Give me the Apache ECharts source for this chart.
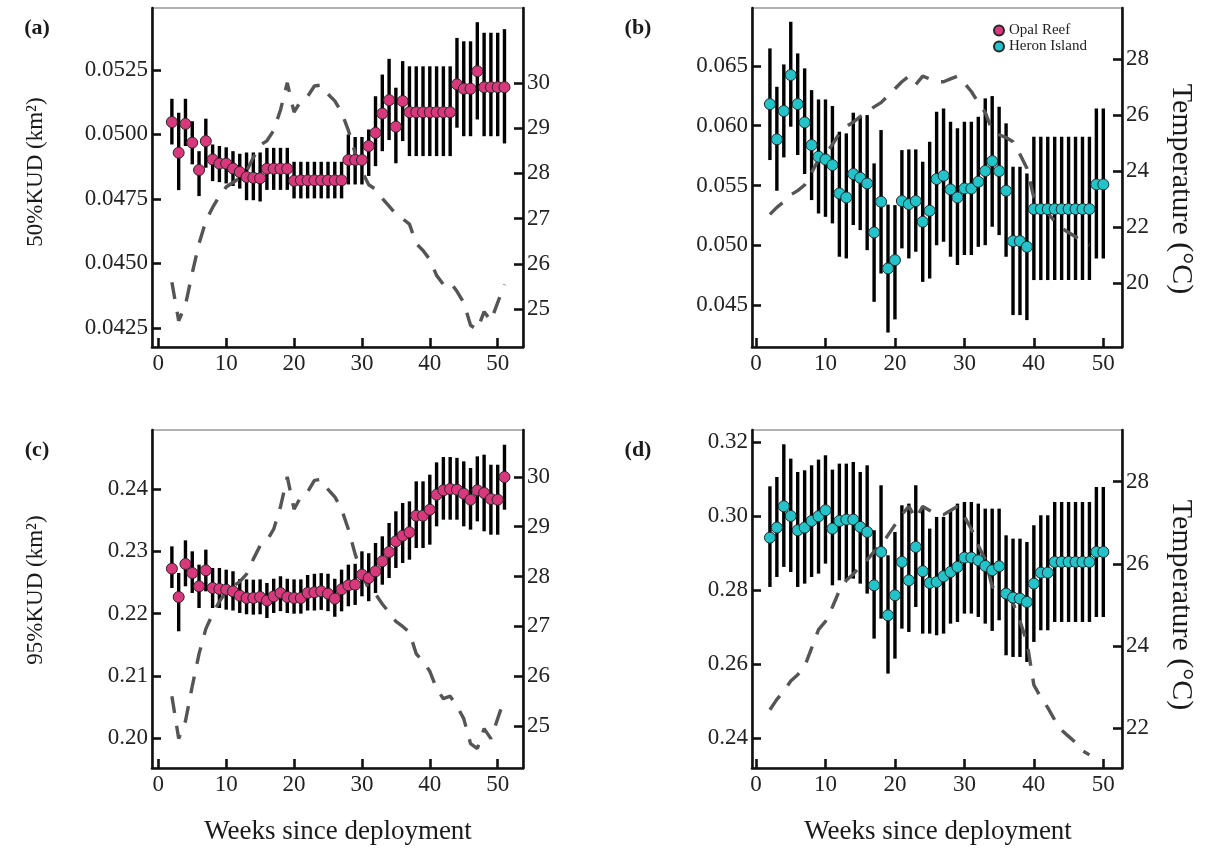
<!DOCTYPE html>
<html>
<head>
<meta charset="utf-8">
<title>KUD and temperature by week</title>
<script src="https://cdn.jsdelivr.net/npm/echarts@6/dist/echarts.min.js"></script>
<style>
  html, body { margin: 0; padding: 0; background: #fff; }
  #chart { width: 1211px; height: 852px; }
</style>
</head>
<body>
<div id="chart"></div>
<script>
// weeks since deployment
const opalWeeks = [2,3,4,5,6,7,8,9,10,11,12,13,14,15,16,17,18,19,20,21,22,23,24,25,26,
  27,28,29,30,31,32,33,34,35,36,37,38,39,40,41,42,43,44,45,46,47,48,49,50,51];
const heronWeeks = [2,3,4,5,6,7,8,9,10,11,12,13,14,15,16,17,18,19,20,21,22,23,24,25,26,
  27,28,29,30,31,32,33,34,35,36,37,38,39,40,41,42,43,44,45,46,47,48,49,50];
const heronTempWeeks = [2,3,4,5,6,7,8,9,10,11,12,13,14,15,16,17,18,19,20,21,22,23,24,25,26,
  27,28,29,30,31,32,33,34,35,36,37,38,39,40,41,42,43,44,45,46,47,48];

// Opal Reef 50% KUD (km2)
const opal50 = [0.05048,0.04929,0.05041,0.04968,0.04862,0.04974,0.04903,0.04887,0.04887,0.04868,
  0.04854,0.04835,0.04832,0.04830,0.04867,0.04867,0.04867,0.04867,0.04820,0.04822,
  0.04822,0.04822,0.04822,0.04822,0.04822,0.04822,0.04901,0.04901,0.04901,0.04955,
  0.05006,0.05081,0.05133,0.05030,0.05129,0.05086,0.05086,0.05086,0.05086,0.05086,
  0.05086,0.05086,0.05194,0.05177,0.05177,0.05245,0.05183,0.05183,0.05183,0.05183];
const opal50Lo = [0.04961,0.04784,0.04955,0.04884,0.04761,0.04871,0.04819,0.04815,0.04810,0.04800,
  0.04790,0.04745,0.04745,0.04740,0.04785,0.04785,0.04785,0.04785,0.04752,0.04752,
  0.04752,0.04752,0.04752,0.04752,0.04752,0.04752,0.04806,0.04806,0.04806,0.04839,
  0.04877,0.04935,0.04978,0.04888,0.04974,0.04916,0.04916,0.04916,0.04916,0.04916,
  0.04916,0.04916,0.05026,0.04993,0.04993,0.05058,0.04993,0.04993,0.04993,0.04965];
const opal50Hi = [0.05138,0.05084,0.05138,0.05051,0.04935,0.05061,0.04961,0.04955,0.04950,0.04935,
  0.04925,0.04930,0.04930,0.04930,0.04948,0.04948,0.04948,0.04948,0.04894,0.04894,
  0.04894,0.04894,0.04894,0.04894,0.04894,0.04894,0.05000,0.04990,0.04990,0.05019,
  0.05148,0.05232,0.05293,0.05181,0.05284,0.05264,0.05264,0.05264,0.05264,0.05264,
  0.05264,0.05264,0.05374,0.05361,0.05361,0.05435,0.05394,0.05394,0.05394,0.05408];

// Opal Reef 95% KUD (km2)
const opal95 = [0.22722,0.22267,0.22797,0.22652,0.22439,0.22695,0.22412,0.22396,0.22385,0.22358,
  0.22289,0.22251,0.22251,0.22267,0.22209,0.22278,0.22332,0.22267,0.22251,0.22251,
  0.22332,0.22342,0.22358,0.22321,0.22241,0.22390,0.22455,0.22465,0.22626,0.22572,
  0.22679,0.22840,0.22989,0.23160,0.23251,0.23305,0.23572,0.23572,0.23668,0.23909,
  0.23979,0.24000,0.23990,0.23925,0.23829,0.23979,0.23936,0.23840,0.23829,0.24193];
const opal95Lo = [0.22412,0.21717,0.22439,0.22332,0.22091,0.22358,0.22091,0.22091,0.22064,0.22050,
  0.22011,0.21990,0.21984,0.21990,0.21930,0.22010,0.22040,0.22010,0.22000,0.22000,
  0.22050,0.22050,0.22060,0.22040,0.21950,0.22037,0.22118,0.22140,0.22278,0.22200,
  0.22332,0.22465,0.22572,0.22733,0.22813,0.22866,0.23053,0.23053,0.23107,0.23401,
  0.23508,0.23508,0.23508,0.23401,0.23348,0.23481,0.23321,0.23267,0.23267,0.23668];
const opal95Hi = [0.23080,0.22652,0.23176,0.23000,0.22786,0.23027,0.22733,0.22733,0.22706,0.22680,
  0.22556,0.22550,0.22545,0.22550,0.22492,0.22560,0.22600,0.22560,0.22550,0.22550,
  0.22620,0.22640,0.22650,0.22640,0.22560,0.22706,0.22786,0.22800,0.23000,0.22970,
  0.23134,0.23241,0.23455,0.23642,0.23775,0.23802,0.24123,0.24123,0.24230,0.24428,
  0.24513,0.24513,0.24500,0.24444,0.24337,0.24524,0.24551,0.24390,0.24390,0.24711];

// Heron Island 50% KUD (km2)
const heron50 = [0.06181,0.05886,0.06123,0.06424,0.06181,0.06028,0.05838,0.05741,0.05718,0.05671,
  0.05434,0.05400,0.05596,0.05565,0.05517,0.05107,0.05364,0.04806,0.04876,0.05370,
  0.05344,0.05370,0.05197,0.05289,0.05554,0.05582,0.05467,0.05400,0.05475,0.05475,
  0.05531,0.05621,0.05704,0.05621,0.05456,0.05035,0.05035,0.04987,0.05303,0.05303,
  0.05303,0.05303,0.05303,0.05303,0.05303,0.05303,0.05303,0.05509,0.05509];
const heron50Lo = [0.05713,0.05456,0.05735,0.05992,0.05755,0.05596,0.05378,0.05266,0.05238,0.05183,
  0.04904,0.04890,0.05169,0.05127,0.04959,0.04527,0.04764,0.04270,0.04380,0.04974,
  0.04890,0.04946,0.04694,0.04722,0.05001,0.05029,0.04904,0.04834,0.04918,0.04918,
  0.04987,0.05001,0.05155,0.05085,0.04904,0.04416,0.04416,0.04374,0.04709,0.04709,
  0.04709,0.04709,0.04709,0.04709,0.04709,0.04709,0.04709,0.04890,0.04890];
const heron50Hi = [0.06647,0.06326,0.06513,0.06870,0.06605,0.06480,0.06298,0.06220,0.06220,0.06165,
  0.05950,0.05936,0.06109,0.06075,0.06089,0.05685,0.05964,0.05340,0.05336,0.05796,
  0.05802,0.05802,0.05699,0.05866,0.06117,0.06145,0.06033,0.05978,0.06033,0.06033,
  0.06075,0.06229,0.06248,0.06159,0.06020,0.05657,0.05657,0.05601,0.05908,0.05908,
  0.05908,0.05908,0.05908,0.05908,0.05908,0.05908,0.05908,0.06145,0.06145];

// Heron Island 95% KUD (km2)
const heron95 = [0.29423,0.29694,0.30270,0.30009,0.29622,0.29694,0.29874,0.30000,0.30162,0.29667,
  0.29874,0.29910,0.29910,0.29712,0.29577,0.28135,0.29036,0.27324,0.27865,0.28766,
  0.28270,0.29171,0.28514,0.28198,0.28225,0.28378,0.28495,0.28631,0.28883,0.28883,
  0.28811,0.28658,0.28541,0.28649,0.27910,0.27802,0.27775,0.27685,0.28180,0.28477,
  0.28477,0.28766,0.28766,0.28766,0.28766,0.28766,0.28766,0.29036,0.29036];
const heron95Lo = [0.28090,0.28360,0.28631,0.28495,0.28090,0.28180,0.28360,0.28450,0.28721,0.28135,
  0.28270,0.28270,0.28315,0.28180,0.27910,0.26694,0.27234,0.25748,0.26153,0.26964,
  0.26874,0.27549,0.26829,0.26829,0.26784,0.26829,0.27099,0.27144,0.27370,0.27370,
  0.27279,0.27099,0.26901,0.27189,0.26243,0.26198,0.26198,0.26063,0.26604,0.26919,
  0.26919,0.27144,0.27144,0.27144,0.27144,0.27144,0.27144,0.27279,0.27279];
const heron95Hi = [0.30811,0.31063,0.31946,0.31559,0.31198,0.31243,0.31378,0.31532,0.31649,0.31261,
  0.31423,0.31423,0.31468,0.31198,0.31378,0.29622,0.30838,0.28946,0.29577,0.30297,
  0.30342,0.30838,0.30234,0.29667,0.29982,0.29982,0.30162,0.30342,0.30387,0.30387,
  0.30342,0.30207,0.30207,0.30207,0.29486,0.29396,0.29396,0.29306,0.29757,0.30027,
  0.30027,0.30387,0.30387,0.30387,0.30387,0.30387,0.30387,0.30793,0.30793];

// water temperature (deg C)
const opalTemp = [25.6,24.75,25.1,25.8,26.45,26.95,27.25,27.5,27.7,27.8,
  27.9,28.05,28.35,28.62,28.72,28.95,29.4,30.0,29.35,29.6,
  29.7,29.93,29.95,29.75,29.6,29.35,28.95,28.45,28.05,27.75,
  27.65,27.45,27.28,27.1,27.0,26.88,26.45,26.3,26.1,25.75,
  25.55,25.6,25.4,25.15,24.65,24.55,24.95,24.75,25.15,25.55];
const heronTemp = [22.45,22.7,22.9,23.15,23.3,23.5,23.95,24.4,24.6,24.95,
  25.35,25.6,25.75,25.95,26.1,26.3,26.45,26.7,26.95,27.2,
  27.4,27.1,27.4,27.3,27.2,27.2,27.3,27.4,27.15,26.85,
  26.45,26.1,25.45,25.3,25.2,25.05,24.6,24.1,23.05,22.75,
  22.5,22.2,21.95,21.8,21.65,21.45,21.35];

// tick labels
const weekTicks = [0, 10, 20, 30, 40, 50];
const ticksA = [0.0425, 0.0450, 0.0475, 0.0500, 0.0525];
const ticksB = [0.045, 0.050, 0.055, 0.060, 0.065];
const ticksC = [0.20, 0.21, 0.22, 0.23, 0.24];
const ticksD = [0.24, 0.26, 0.28, 0.30, 0.32];
const tempTicksOpal = [25, 26, 27, 28, 29, 30];
const tempTicksB = [20, 22, 24, 26, 28];
const tempTicksD = [22, 24, 26, 28];

const serif = '"Liberation Serif", "Times New Roman", serif';
const opalColor = '#d7397c';
const heronColor = '#22c3c9';

const chart = echarts.init(document.getElementById('chart'));

function xAxisFor(gi, min, max) {
  return {
    type: 'value', gridIndex: gi, min: min, max: max,
    axisLine: { onZero: false, lineStyle: { color: '#111', width: 2.6 } },
    axisTick: { inside: true, length: 9, customValues: weekTicks, lineStyle: { color: '#111', width: 2.6 } },
    axisLabel: { customValues: weekTicks, fontFamily: serif, fontSize: 23, color: '#222', margin: 5 },
    splitLine: { show: false }
  };
}

function yAxisFor(gi, min, max, ticks, digits, right) {
  return {
    type: 'value', gridIndex: gi, min: min, max: max,
    position: right ? 'right' : 'left',
    axisLine: { show: true, onZero: false, lineStyle: { color: '#111', width: 2.6 } },
    axisTick: { show: true, inside: true, length: 9, customValues: ticks, lineStyle: { color: '#111', width: 2.6 } },
    axisLabel: {
      customValues: ticks, fontFamily: serif, fontSize: 23, color: '#222', margin: 4,
      formatter: v => v.toFixed(digits)
    },
    splitLine: { show: false }
  };
}

function errorBars(ai, weeks, lo, hi) {
  return {
    type: 'custom', xAxisIndex: ai, yAxisIndex: ai * 2, z: 2, silent: true,
    data: weeks.map((w, i) => [w, lo[i], hi[i]]),
    encode: { x: 0, y: [1, 2] },
    renderItem: (params, api) => {
      const p1 = api.coord([api.value(0), api.value(1)]);
      const p2 = api.coord([api.value(0), api.value(2)]);
      return {
        type: 'line',
        shape: { x1: p1[0], y1: p1[1], x2: p2[0], y2: p2[1] },
        style: { stroke: '#000', lineWidth: 3.4 }
      };
    }
  };
}

function points(ai, name, color, weeks, vals) {
  return {
    type: 'scatter', name: name, xAxisIndex: ai, yAxisIndex: ai * 2, z: 4,
    symbolSize: 11,
    itemStyle: { color: color, borderColor: '#262626', borderWidth: 1, opacity: 1 },
    data: weeks.map((w, i) => [w, vals[i]])
  };
}

function tempLine(ai, weeks, temps) {
  return {
    type: 'line', xAxisIndex: ai, yAxisIndex: ai * 2 + 1, z: 3, silent: true,
    symbol: 'none', smooth: false,
    lineStyle: { color: '#555', width: 3.4, type: [17, 13] },
    data: weeks.map((w, i) => [w, temps[i]])
  };
}

function label(text, x, y, rot, size, bold) {
  return {
    type: 'text', x: x, y: y, rotation: rot || 0,
    style: {
      text: text, fontFamily: serif, fontSize: size, fontWeight: bold ? 'bold' : 'normal',
      fill: '#1a1a1a', align: 'center', verticalAlign: 'middle'
    }
  };
}

const option = {
  backgroundColor: '#fff',
  animation: false,
  grid: [
    { left: 152, top: 8, width: 371, height: 339 },
    { left: 752, top: 8, width: 370, height: 339 },
    { left: 152, top: 430, width: 371, height: 338 },
    { left: 752, top: 430, width: 370, height: 338 }
  ].map(g => Object.assign(g, { show: true, borderColor: '#666', borderWidth: 1.2 })),
  xAxis: [
    xAxisFor(0, -0.93, 53.73),
    xAxisFor(1, -0.58, 52.69),
    xAxisFor(2, -0.93, 53.73),
    xAxisFor(3, -0.58, 52.69)
  ],
  yAxis: [
    yAxisFor(0, 0.04176, 0.0549, ticksA, 4, false),
    yAxisFor(0, 24.17, 31.65, tempTicksOpal, 0, true),
    yAxisFor(1, 0.04149, 0.06985, ticksB, 3, false),
    yAxisFor(1, 17.70, 29.84, tempTicksB, 0, true),
    yAxisFor(2, 0.19523, 0.24947, ticksC, 2, false),
    yAxisFor(2, 24.16, 30.94, tempTicksOpal, 0, true),
    yAxisFor(3, 0.23197, 0.32332, ticksD, 2, false),
    yAxisFor(3, 21.03, 29.26, tempTicksD, 0, true)
  ],
  legend: {
    data: ['Opal Reef', 'Heron Island'],
    orient: 'vertical', left: 988, top: 18,
    icon: 'circle', itemWidth: 10, itemHeight: 10, itemGap: 1,
    textStyle: { fontFamily: serif, fontSize: 15, color: '#222' }
  },
  series: [
    errorBars(0, opalWeeks, opal50Lo, opal50Hi),
    tempLine(0, opalWeeks, opalTemp),
    points(0, 'Opal Reef', opalColor, opalWeeks, opal50),
    errorBars(1, heronWeeks, heron50Lo, heron50Hi),
    tempLine(1, heronTempWeeks, heronTemp),
    points(1, 'Heron Island', heronColor, heronWeeks, heron50),
    errorBars(2, opalWeeks, opal95Lo, opal95Hi),
    tempLine(2, opalWeeks, opalTemp),
    points(2, 'Opal Reef', opalColor, opalWeeks, opal95),
    errorBars(3, heronWeeks, heron95Lo, heron95Hi),
    tempLine(3, heronTempWeeks, heronTemp),
    points(3, 'Heron Island', heronColor, heronWeeks, heron95)
  ],
  graphic: [
    label('(a)', 37, 28, 0, 22, true),
    label('(b)', 638, 28, 0, 22, true),
    label('(c)', 37, 450, 0, 22, true),
    label('(d)', 638, 450, 0, 22, true),
    label('50%KUD (km²)', 36, 172, Math.PI / 2, 23),
    label('95%KUD (km²)', 36, 590, Math.PI / 2, 23),
    label('Temperature (°C)', 1181, 189, -Math.PI / 2, 30),
    label('Temperature (°C)', 1181, 605, -Math.PI / 2, 30),
    label('Weeks since deployment', 338, 832, 0, 27),
    label('Weeks since deployment', 938, 832, 0, 27)
  ]
};

chart.setOption(option);
</script>
</body>
</html>
